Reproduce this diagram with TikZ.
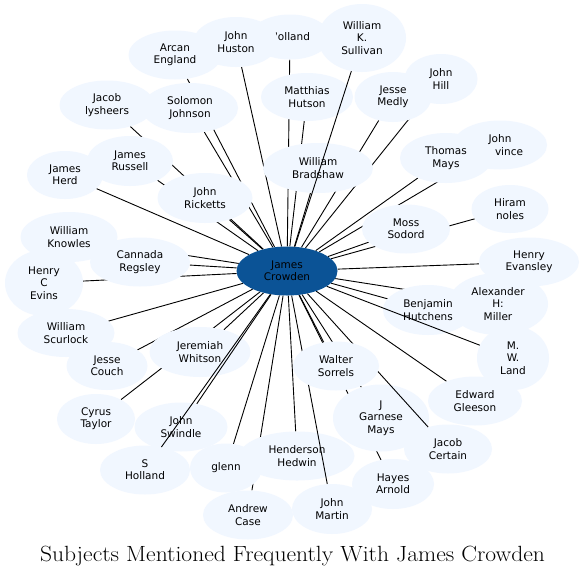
\documentclass[tikz,border=0pt]{standalone}
\usepackage{fontspec}
\newfontfamily\nodefont{DejaVu Sans}
\usetikzlibrary{shapes.geometric}
\definecolor{nodefill}{RGB}{241,247,255}
\definecolor{hubfill}{RGB}{11,83,150}
\pgfdeclarelayer{bg}\pgfdeclarelayer{mid}\pgfdeclarelayer{front}
\pgfsetlayers{bg,main,mid,front}
\tikzset{
  person/.style={ellipse, fill=nodefill, inner sep=0pt, align=center,
    font=\nodefont\fontsize{10.5}{12.3}\selectfont},
  hub/.style={ellipse, fill=hubfill, inner sep=0pt, align=center,
    minimum width=101pt, minimum height=49pt,
    font=\nodefont\fontsize{10.5}{12.3}\selectfont},
  link/.style={line width=0.9pt, black},
  sz/.style n args={2}{minimum width=#1pt, minimum height=#2pt},
}
\begin{document}
\begin{tikzpicture}[x=1pt,y=-1pt]
\useasboundingbox (0,0) rectangle (585,576);
\begin{pgfonlayer}{bg}
\fill[white] (0,0) rectangle (585,576);
\end{pgfonlayer}

\node[hub] (hub) at (287,271) {James\\Crowden};

\node[person, sz={80}{45}] (holland) at (290,37) {Holland};
\node[person, sz={93}{49}] (arcan) at (175,55) {Arcan\\England};
\node[person, sz={85}{50}] (huston) at (236,42) {John\\Huston};
\node[person, sz={88}{68}] (sullivan) at (362,38) {William\\K.\\Sullivan};
\node[person, sz={92}{48}] (matthias) at (307,97) {Matthias\\Hutson};
\node[person, sz={77}{50}] (medly) at (393,97) {Jesse\\Medly};
\node[person, sz={73}{50}] (hill) at (441,79) {John\\Hill};
\node[person, sz={95}{49}] (jacob) at (107,105) {Jacob\\lysheers};
\node[person, sz={96}{50}] (solomon) at (190,108) {Solomon\\Johnson};
\node[person, sz={86}{50}] (russell) at (130,161) {James\\Russell};
\node[person, sz={76}{48}] (herd) at (65,175) {James\\Herd};
\node[person, sz={95}{50}] (ricketts) at (205,198) {John\\Ricketts};
\node[person, sz={110}{50}] (bradshaw) at (318,168) {William\\Bradshaw};
\node[person, sz={94}{49}] (vince) at (500,145) {John\\\hspace*{18pt}vince};
\node[person, sz={92}{50}] (thomas) at (446,158) {Thomas\\Mays};
\node[person, sz={77}{48}] (hiram) at (510,209) {Hiram\\noles};
\node[person, sz={88}{49}] (moss) at (406,229) {Moss\\Sodord};
\node[person, sz={100}{49}] (evansley) at (529,262) {Henry\\Evansley};
\node[person, sz={100}{62}] (miller) at (498,304) {Alexander\\H:\\Miller};
\node[person, sz={90}{50}] (hutchens) at (428,310) {Benjamin\\Hutchens};
\node[person, sz={72}{64}] (land) at (513,358) {M.\\W.\\Land};
\node[person, sz={94}{49}] (gleeson) at (475,401) {Edward\\Gleeson};
\node[person, sz={96}{67}] (garnese) at (381,418) {J\\Garnese\\Mays};
\node[person, sz={88}{49}] (certain) at (448,449) {Jacob\\Certain};
\node[person, sz={82}{50}] (hayes) at (393,484) {Hayes\\Arnold};
\node[person, sz={80}{50}] (martin) at (332,509) {John\\Martin};
\node[person, sz={115}{49}] (hedwin) at (297,456) {Henderson\\Hedwin};
\node[person, sz={90}{49}] (case) at (248,515) {Andrew\\Case};
\node[person, sz={72}{49}] (glenn) at (226,468) {glenn};
\node[person, sz={90}{49}] (sholland) at (145,470) {S\\Holland};
\node[person, sz={93}{49}] (swindle) at (181,427) {John\\Swindle};
\node[person, sz={78}{50}] (cyrus) at (96,419) {Cyrus\\Taylor};
\node[person, sz={81}{48}] (couch) at (107,366) {Jesse\\Couch};
\node[person, sz={101}{50}] (whitson) at (200,352) {Jeremiah\\Whitson};
\node[person, sz={97}{48}] (scurlock) at (66,333) {William\\Scurlock};
\node[person, sz={78}{66}] (evins) at (44,283) {Henry\\C\\Evins};
\node[person, sz={100}{49}] (cannada) at (140,262) {Cannada\\Regsley};
\node[person, sz={97}{50}] (knowles) at (69,237) {William\\Knowles};

\begin{pgfonlayer}{front}
\node[person, sz={86}{49}] (sorrels) at (336,366) {Walter\\Sorrels};
\end{pgfonlayer}

\begin{pgfonlayer}{bg}
\foreach \t in {holland,arcan,huston,matthias,medly,hill,jacob,solomon,russell,
  herd,ricketts,bradshaw,vince,thomas,hiram,moss,evansley,miller,hutchens,
  gleeson,garnese,hayes,hedwin,case,glenn,cyrus,couch,whitson,scurlock,
  evins,cannada,knowles,sorrels}
  {\draw[link] (hub) -- (\t);}
\end{pgfonlayer}

\begin{pgfonlayer}{mid}
\foreach \t in {sullivan,sholland,swindle,martin,certain,land}
  {\draw[link] (hub) -- (\t);}
\end{pgfonlayer}

\node[anchor=base, inner sep=0pt, font=\fontsize{22}{26}\selectfont] (title) at (292.5,561)
  {\scalebox{1.07}[1]{Subjects Mentioned Frequently With James Crowden}};
\end{tikzpicture}
\end{document}
